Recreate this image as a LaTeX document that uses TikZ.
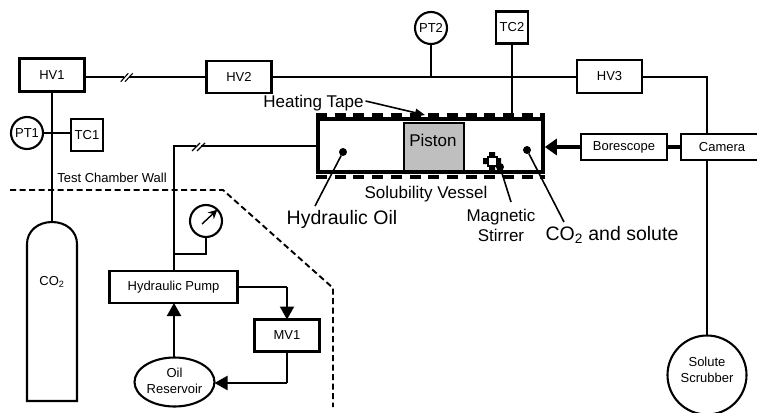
\documentclass[tikz,border=0pt]{standalone}
\usepackage{fontspec}
\setmainfont{Liberation Sans}
\usetikzlibrary{arrows.meta,shapes.geometric}
\tikzset{
 smalltext/.style={font=\fontsize{13pt}{16pt}\selectfont},
 midtext/.style={font=\fontsize{17pt}{19.5pt}\selectfont},
 bigtext/.style={font=\fontsize{19.5pt}{22pt}\selectfont},
 box/.style={draw,line width=2.1pt,inner sep=0pt,outer sep=0pt,align=center,smalltext},
 ln/.style={line width=2.1pt},
 tip/.style={line width=2.1pt,-{Triangle[length=13pt,width=14pt]}},
 lbl/.style={inner sep=0pt,outer sep=0pt,align=center},
 wall/.style={line width=1.9pt,dash pattern=on 6pt off 3.5pt},
 lead/.style={line width=1.6pt},
 dotn/.style={circle,fill=black,inner sep=0pt,minimum size=8pt,outer sep=0pt},
 tape/.style={line width=3.6pt,dash pattern=on 11pt off 7.7pt},
 slash/.style={line width=1.1pt}
}
\begin{document}
\begin{tikzpicture}[x=1pt,y=-1pt]
\useasboundingbox (0,0) rectangle (757,412);
\clip (0,0) rectangle (757,412);
% heating tape
\coordinate (tapeTL) at (316,115);
\coordinate (tapeTR) at (545,115);
\coordinate (tapeBL) at (316,177);
\coordinate (tapeBR) at (545,177);
\draw[tape] (tapeTL) -- (tapeTR);
\draw[tape] (tapeBL) -- (tapeBR);
% boxes
\node[box,minimum width=65pt,minimum height=33pt] (hv1) at (52,75) {HV1};
\node[box,minimum width=65pt,minimum height=32pt] (hv2) at (239,77) {HV2};
\node[box,minimum width=65pt,minimum height=33pt] (hv3) at (609.5,76.5) {HV3};
\node[box,minimum width=32pt,minimum height=32pt] (tc1) at (87,135) {TC1};
\node[box,circle,minimum size=32pt] (pt1) at (27,133) {PT1};
\node[box,circle,minimum size=32pt] (pt2) at (431,28) {PT2};
\node[box,minimum width=32pt,minimum height=32pt] (tc2) at (512,27.5) {TC2};
\node[box,minimum width=86pt,minimum height=26pt] (bs) at (624,147) {Borescope};
\node[box,minimum width=82pt,minimum height=26pt] (cam) at (722,147) {Camera};
\node[box,circle,minimum size=79pt] (sc) at (707,375) {};
\node[lbl,smalltext] at (707,370) {Solute\\Scrubber};
\node[box,minimum width=128pt,minimum height=32pt] (pump) at (173.5,287) {Hydraulic Pump};
\node[box,minimum width=65pt,minimum height=32pt] (mv) at (287,335.5) {MV1};
\node[box,ellipse,minimum width=80pt,minimum height=49pt] (oil) at (174.5,382) {};
\node[lbl,smalltext] at (174.5,381) {Oil\\Reservoir};
% CO2 cylinder
\coordinate (cyl) at (52,222);
\draw[line width=2.1pt] (27,401) -- (27,244) .. controls (27,231) and (38,222) .. (cyl) .. controls (66,222) and (77,231) .. (77,244) -- (77,401) -- cycle;
\node[lbl,smalltext] at (52,282) {CO\textsubscript{2}};
% gauge
\node[box,circle,minimum size=32pt] (g) at (206,221) {};
\coordinate (gs) at (202,224);
\draw[line width=1.4pt,-{Stealth[length=9pt,width=9pt]}] (gs) -- (g.45);
% vessel
\node[draw=black,line width=3.6pt,minimum width=225pt,minimum height=53pt,inner sep=0pt,outer sep=1.8pt] (ves) at (430.5,145.5) {};
\node[draw=black,fill=black!25,line width=2pt,minimum width=60pt,minimum height=48pt,inner sep=0pt] (pis) at (433.5,146.5) {};
\node[lbl,midtext] at (433,140) {Piston};
% main lines
\coordinate (j1) at (431,77);
\coordinate (c1) at (707,77);
\coordinate (h1) at (174,146);
\draw[ln] (hv1.east|-hv2.west) -- (hv2.west);
\draw[ln] (hv2.east) -- (hv3.west|-hv2.east);
\draw[ln] (hv3.east|-c1) -- (c1) -- (c1|-cam.north);
\draw[ln] (c1|-cam.south) -- (sc.north);
\draw[ln] (pt2) -- (j1);
\draw[ln] (tc2) -- (tc2|-ves.north);
\draw[ln] (hv1) -- (cyl);
\draw[ln] (pt1) -- (tc1.west|-pt1);
\draw[ln] (pump.north-|h1) -- (h1) -- (ves.west|-h1);
% gauge tap
\coordinate (gj) at (174,254);
\draw[ln] (g) -- (g|-gj) -- (gj);
% pump loop
\coordinate (pc) at (287,287);
\coordinate (mc) at (287,383);
\draw[ln] (pump.east) -- (pc);
\draw[tip] (pc) -- (mv.north);
\draw[ln] (mv.south) -- (mc);
\draw[tip] (mc) -- (oil.east|-mc);
\draw[tip] (oil.north-|h1) -- (pump.south-|h1);
% thick arrow
\draw[line width=4pt] (bs.east) -- (cam.west);
\draw[line width=4pt,-{Triangle[length=12pt,width=16pt]}] (bs.west) -- (ves.east|-bs);
% slashes
\fill[white] (124,74) rectangle (129,80);
\draw[slash] (120.7,81.7) -- (128.3,73.3) (125,81.7) -- (132.7,73.3);
\fill[white] (196,143) rectangle (201,149);
\draw[slash] (192,151) -- (200,143) (197,151) -- (205,143);
% wall
\coordinate (w1) at (10,190);
\coordinate (w2) at (223,190);
\coordinate (w3) at (333,288);
\coordinate (w4) at (333,407);
\draw[wall] (w1) -- (w2) -- (w3) -- (w4);
\node[lbl,smalltext] at (112,178) {Test Chamber Wall};
% labels and leads
\node[lbl,midtext] (ht) at (313.5,103) {Heating Tape};
\coordinate (hta) at (425,115);
\draw[line width=1.6pt,-{Triangle[length=10pt,width=8pt]}] (ht.east) ++(2,-2) -- (hta);
\node[lbl,midtext] at (426,194) {Solubility Vessel};
\node[lbl,bigtext] (ho) at (342,219) {Hydraulic Oil};
\node[dotn] (d1) at (343,152) {};
\coordinate (d1e) at (315,206);
\draw[lead] (d1) -- (d1e);
\node[dotn] (d2) at (527,150) {};
\coordinate (d2e) at (564,222);
\draw[lead] (d2) -- (d2e);
\node[lbl,bigtext] at (612,235) {CO\textsubscript{2} and solute};
\node[lbl,midtext] (ms) at (501,225.5) {Magnetic\\Stirrer};
\node[dotn,minimum size=8pt] (d3) at (500,167) {};
\coordinate (d3e) at (511,202);
\draw[lead] (d3) -- (d3e);
% stirrer
\coordinate (st) at (492,161);
\fill (st) ++(-3,-9) rectangle ++(6,4) (st) ++(-3,5) rectangle ++(6,4) (st) ++(-9,-3) rectangle ++(4,6) (st) ++(5,-3) rectangle ++(4,6);
\draw[line width=2pt,fill=white] (st) ++(-4.5,-4.5) rectangle ++(9,9);
\end{tikzpicture}
\end{document}
